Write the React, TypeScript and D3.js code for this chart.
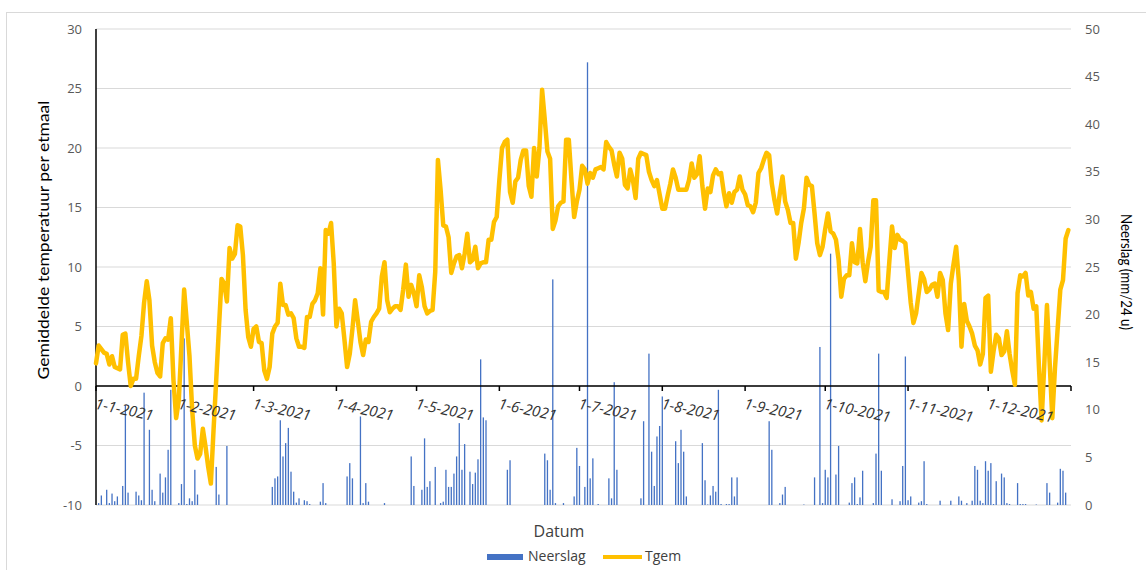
import React from 'react';
import * as d3 from 'd3';

// Daily mean temperature (°C), 2021, per month
const tempJan = [1.9, 3.4, 3.1, 2.8, 2.7, 1.8, 2.5, 1.6, 1.5, 1.4, 4.3, 4.4, 2.0, 0.0, 0.6, 0.6, 2.5, 4.2, 7.0, 8.8, 7.2, 3.4, 2.0, 1.1, 0.8, 3.6, 4.0, 3.9, 5.7, 0.5, -2.7];
const tempFeb = [-1.2, 3.5, 8.1, 5.3, 2.5, -2.0, -5.0, -6.1, -5.7, -3.6, -5.1, -6.8, -8.2, -3.7, 0.5, 4.8, 9.0, 8.6, 7.1, 11.6, 10.7, 11.1, 13.5, 13.4, 11.0, 6.4, 4.1, 3.3];
const tempMar = [4.8, 5.0, 3.7, 3.6, 1.3, 0.6, 1.6, 4.4, 5.0, 5.3, 8.6, 6.8, 6.8, 6.0, 6.1, 5.7, 4.0, 3.3, 3.3, 3.2, 5.8, 5.8, 6.9, 7.2, 7.8, 9.9, 6.0, 13.1, 12.8, 13.7, 10.3];
const tempApr = [5.0, 6.5, 6.1, 3.9, 1.6, 2.7, 4.8, 7.2, 5.5, 3.7, 2.6, 3.9, 3.7, 5.4, 5.8, 6.1, 6.5, 9.2, 10.4, 7.2, 6.2, 6.5, 6.7, 6.7, 6.4, 8.1, 10.2, 7.5, 8.5, 7.8];
const tempMay = [6.7, 9.3, 8.3, 6.7, 6.1, 6.3, 6.4, 9.6, 19.0, 16.5, 13.5, 13.4, 12.5, 9.5, 10.3, 10.9, 11.0, 9.9, 11.1, 12.8, 10.4, 10.6, 11.7, 9.9, 10.3, 10.4, 10.4, 12.3, 12.3, 13.8, 14.2];
const tempJun = [17.3, 20.0, 20.5, 20.7, 16.3, 15.4, 17.2, 17.5, 19.0, 19.8, 19.8, 16.8, 15.9, 20.0, 17.6, 20.0, 24.9, 22.4, 19.7, 19.1, 13.2, 13.9, 15.1, 15.4, 15.5, 20.7, 20.7, 17.3, 14.2, 15.5];
const tempJul = [16.5, 18.5, 18.2, 17.0, 17.9, 17.5, 18.2, 18.3, 18.4, 18.2, 20.5, 20.1, 19.8, 18.6, 17.6, 19.6, 19.1, 16.9, 16.6, 18.2, 17.3, 15.8, 19.1, 19.6, 19.5, 19.4, 18.0, 17.3, 16.8, 17.3, 16.1];
const tempAug = [14.9, 14.9, 16.0, 17.0, 18.2, 17.5, 16.5, 16.5, 16.5, 16.5, 17.3, 18.7, 17.5, 17.8, 19.3, 16.8, 14.9, 16.6, 16.3, 17.7, 18.2, 17.8, 17.9, 16.3, 15.1, 16.2, 15.4, 16.3, 16.5, 17.6, 16.5];
const tempSep = [16.1, 15.2, 15.1, 14.6, 15.4, 17.9, 18.3, 19.0, 19.6, 19.4, 17.0, 15.6, 14.5, 16.2, 17.6, 15.5, 14.8, 13.7, 13.7, 10.7, 12.0, 13.7, 14.9, 17.5, 16.9, 16.8, 14.5, 12.0, 11.0, 11.7];
const tempOct = [13.2, 14.5, 13.0, 12.8, 12.3, 10.6, 7.5, 9.0, 9.3, 9.3, 12.0, 10.4, 10.3, 13.2, 10.4, 8.8, 10.4, 11.7, 15.6, 15.6, 8.0, 7.9, 7.9, 7.4, 10.5, 13.4, 11.6, 12.7, 12.3, 12.2, 12.0];
const tempNov = [9.5, 7.0, 5.3, 6.1, 7.8, 9.5, 9.0, 7.9, 8.1, 8.5, 8.6, 7.5, 9.5, 8.9, 6.1, 4.7, 8.6, 10.2, 11.7, 8.9, 3.3, 6.9, 5.5, 5.0, 4.4, 3.4, 3.0, 1.8, 2.7, 7.4];
const tempDec = [7.6, 1.2, 2.9, 4.3, 4.0, 2.6, 2.9, 4.6, 2.7, 1.3, 0.1, 7.8, 9.3, 9.2, 9.5, 7.6, 7.9, 6.5, 6.7, 1.6, -2.9, 1.8, 6.8, 2.0, -2.7, 1.5, 4.8, 8.1, 8.9, 12.4, 13.1];

// Daily precipitation (mm/24 u), 2021, per month
const rainJan = [0, 0.2, 1.0, 0, 1.6, 0.2, 1.2, 0.4, 0.9, 0, 2.0, 10.5, 1.3, 0, 0, 1.4, 1.0, 0.5, 11.8, 0, 7.9, 1.6, 0.4, 0, 3.3, 1.3, 2.9, 5.8, 12.1, 0, 0];
const rainFeb = [0.2, 2.2, 17.5, 0.1, 0.7, 0.4, 3.7, 1.1, 0, 0, 0, 0, 0, 0, 4.0, 1.1, 0, 0, 6.2, 0, 0, 0, 0, 0, 0, 0, 0, 0];
const rainMar = [0, 0, 0, 0, 0, 0, 0, 1.9, 2.8, 3.0, 8.9, 5.1, 6.5, 8.1, 3.5, 1.4, 0.25, 0.7, 0, 0.5, 0.4, 0.1, 0, 0, 0, 0.35, 2.3, 0.2, 0, 0, 0];
const rainApr = [0, 0, 0, 0, 3.0, 4.4, 2.8, 0, 0, 9.3, 0.2, 2.3, 0.35, 0, 0, 0, 0, 0, 0.2, 0, 0, 0, 0, 0, 0, 0, 0, 0, 5.1, 2.0];
const rainMay = [0, 0, 1.6, 7.0, 1.9, 2.5, 0, 4.0, 0, 0.2, 0.35, 3.7, 1.9, 1.9, 3.3, 5.1, 8.6, 3.7, 6.4, 0, 3.5, 2.2, 3.4, 4.8, 15.3, 9.2, 8.9, 0, 0, 0, 0];
const rainJun = [0, 0, 0, 3.7, 4.7, 0, 0, 0, 0, 0, 0, 0, 0, 0, 0, 0, 0, 5.4, 4.7, 1.6, 23.7, 0.2, 0, 0, 0.2, 0, 0, 0, 0.9, 6.0];
const rainJul = [4.1, 0, 1.9, 46.5, 2.8, 4.9, 0, 0.1, 0, 0, 0, 2.8, 0.7, 12.9, 3.7, 0, 0, 0, 0, 0, 0, 0, 0, 0.7, 8.8, 0, 15.9, 5.6, 2.0, 7.2, 8.3];
const rainAug = [11.4, 0, 0, 0, 0, 6.7, 4.4, 7.9, 5.6, 0.9, 0, 0, 0, 0, 0, 6.5, 2.6, 0.05, 1.0, 2.0, 1.4, 12.1, 0.1, 0, 0.1, 0.1, 2.9, 0.9, 2.9, 0, 0];
const rainSep = [0, 0, 0, 0, 0, 0, 0, 0, 0, 8.8, 5.8, 0, 0, 0.2, 1.1, 1.9, 0, 0, 0, 0, 0, 0, 0.05, 0, 0, 0, 2.9, 0, 16.6, 0.2];
const rainOct = [3.7, 2.9, 26.4, 0, 3.2, 6.2, 0, 0, 0, 0.25, 2.3, 2.9, 0.1, 0.8, 3.6, 0, 0, 0, 0.2, 5.4, 15.9, 3.6, 0, 0, 0, 0.6, 0, 0, 0.4, 4.1, 15.6];
const rainNov = [0.5, 0.9, 0, 0, 0.25, 0.4, 4.6, 0.1, 0, 0, 0, 0, 0.45, 0, 0, 0, 0.45, 0, 0, 0.9, 0.45, 0, 0.2, 0, 0.45, 4.1, 3.7, 0.45, 0.2, 4.6];
const rainDec = [3.6, 4.4, 0.1, 2.5, 0, 3.3, 2.9, 0.2, 0.1, 0, 0, 2.3, 0.1, 0.1, 0.1, 0, 0, 0, 0.05, 0, 0, 0, 2.3, 1.3, 0, 0, 0.25, 3.8, 3.6, 1.3, 0];

const tempTicks = [-10, -5, 0, 5, 10, 15, 20, 25, 30];
const rainTicks = [0, 5, 10, 15, 20, 25, 30, 35, 40, 45, 50];

const temp = [...tempJan, ...tempFeb, ...tempMar, ...tempApr, ...tempMay, ...tempJun,
  ...tempJul, ...tempAug, ...tempSep, ...tempOct, ...tempNov, ...tempDec];
const rain = [...rainJan, ...rainFeb, ...rainMar, ...rainApr, ...rainMay, ...rainJun,
  ...rainJul, ...rainAug, ...rainSep, ...rainOct, ...rainNov, ...rainDec];

const start = new Date(2021, 0, 1);
const months = d3.timeMonth.range(start, new Date(2022, 0, 1));

const W = 1146;
const H = 570;
const plot = { left: 96, right: 1071, top: 29, bottom: 505 };
const font = '"Open Sans", sans-serif';
const titleFont = 'Lato, "Open Sans", sans-serif';

export default function App() {
  const x = d3.scaleLinear().domain([0, 365]).range([plot.left, plot.right]);
  const yT = d3.scaleLinear().domain([-10, 30]).range([plot.bottom, plot.top]);
  const yR = d3.scaleLinear().domain([0, 50]).range([plot.bottom, plot.top]);

  const line = d3.line<number>()
    .x((_, i) => x(i))
    .y(d => yT(d));

  const zeroY = yT(0);
  const barW = 1.3;

  return (
    <svg width={W} height={H} style={{ position: 'absolute', left: 0, top: 0, background: '#fff' }}>
      <rect x={6.5} y={12.5} width={1160} height={600} fill="#fff" stroke="#d9d9d9" />

      {/* gridlines */}
      {tempTicks.map(t => (
        <line key={t} x1={plot.left} x2={plot.right} y1={yT(t)} y2={yT(t)} stroke="#d9d9d9" strokeWidth={1.2} />
      ))}

      {/* precipitation bars */}
      {rain.map((v, i) => v > 0 && (
        <rect key={i} x={x(i) - barW / 2} y={yR(v)} width={barW} height={yR(0) - yR(v)} fill="#4472C4" />
      ))}

      {/* axes */}
      <line x1={plot.left} x2={plot.left} y1={plot.top} y2={plot.bottom} stroke="#000" strokeWidth={1.5} />
      <line x1={plot.left} x2={plot.right} y1={zeroY} y2={zeroY} stroke="#000" strokeWidth={1.5} />
      {months.map(m => {
        const d = d3.timeDay.count(start, m);
        return <line key={d} x1={x(d)} x2={x(d)} y1={zeroY} y2={zeroY + 5} stroke="#000" strokeWidth={1.5} />;
      })}
      <line x1={x(365)} x2={x(365)} y1={zeroY} y2={zeroY + 5} stroke="#000" strokeWidth={1.5} />

      {/* temperature line */}
      <path d={line(temp) ?? ''} fill="none" stroke="#FFC000" strokeWidth={4.5} strokeLinejoin="round" strokeLinecap="round" />

      {/* left tick labels */}
      {tempTicks.map(t => (
        <text key={t} x={82} y={yT(t)} dy="0.35em" textAnchor="end" fontFamily={font} fontSize={13} fill="#595959">{t}</text>
      ))}
      {/* right tick labels */}
      {rainTicks.map(t => (
        <text key={t} x={1085} y={yR(t)} dy="0.35em" textAnchor="start" fontFamily={font} fontSize={13} fill="#595959">{t}</text>
      ))}

      {/* date labels */}
      {months.map(m => {
        const d = d3.timeDay.count(start, m);
        const label = `${m.getDate()}-${m.getMonth() + 1}-${m.getFullYear()}`;
        return (
          <text key={d} transform={`translate(${x(d) + 1},${zeroY + 10}) rotate(12)`} dominantBaseline="hanging"
            fontFamily={font} fontSize={15} fontStyle="italic" fill="#333">{label}</text>
        );
      })}

      {/* axis titles */}
      <text transform={`translate(49,240) rotate(-90)`} textAnchor="middle" fontFamily={titleFont} fontSize={16}
        textLength={279} lengthAdjust="spacingAndGlyphs" fill="#000">
        Gemiddelde temperatuur per etmaal
      </text>
      <text transform={`translate(1121,272) rotate(90)`} textAnchor="middle" fontFamily={titleFont} fontSize={16}
        textLength={116} lengthAdjust="spacingAndGlyphs" fill="#000">
        Neerslag (mm/24 u)
      </text>
      <text x={559} y={537} textAnchor="middle" fontFamily={font} fontSize={16} fill="#404040">Datum</text>

      {/* legend */}
      <rect x={487} y={554} width={36} height={6} fill="#4472C4" />
      <text x={528} y={561} fontFamily={font} fontSize={14} fill="#404040">Neerslag</text>
      <line x1={603} x2={642} y1={557} y2={557} stroke="#FFC000" strokeWidth={4} />
      <text x={645} y={561} fontFamily={font} fontSize={14} fill="#404040">Tgem</text>
    </svg>
  );
}
